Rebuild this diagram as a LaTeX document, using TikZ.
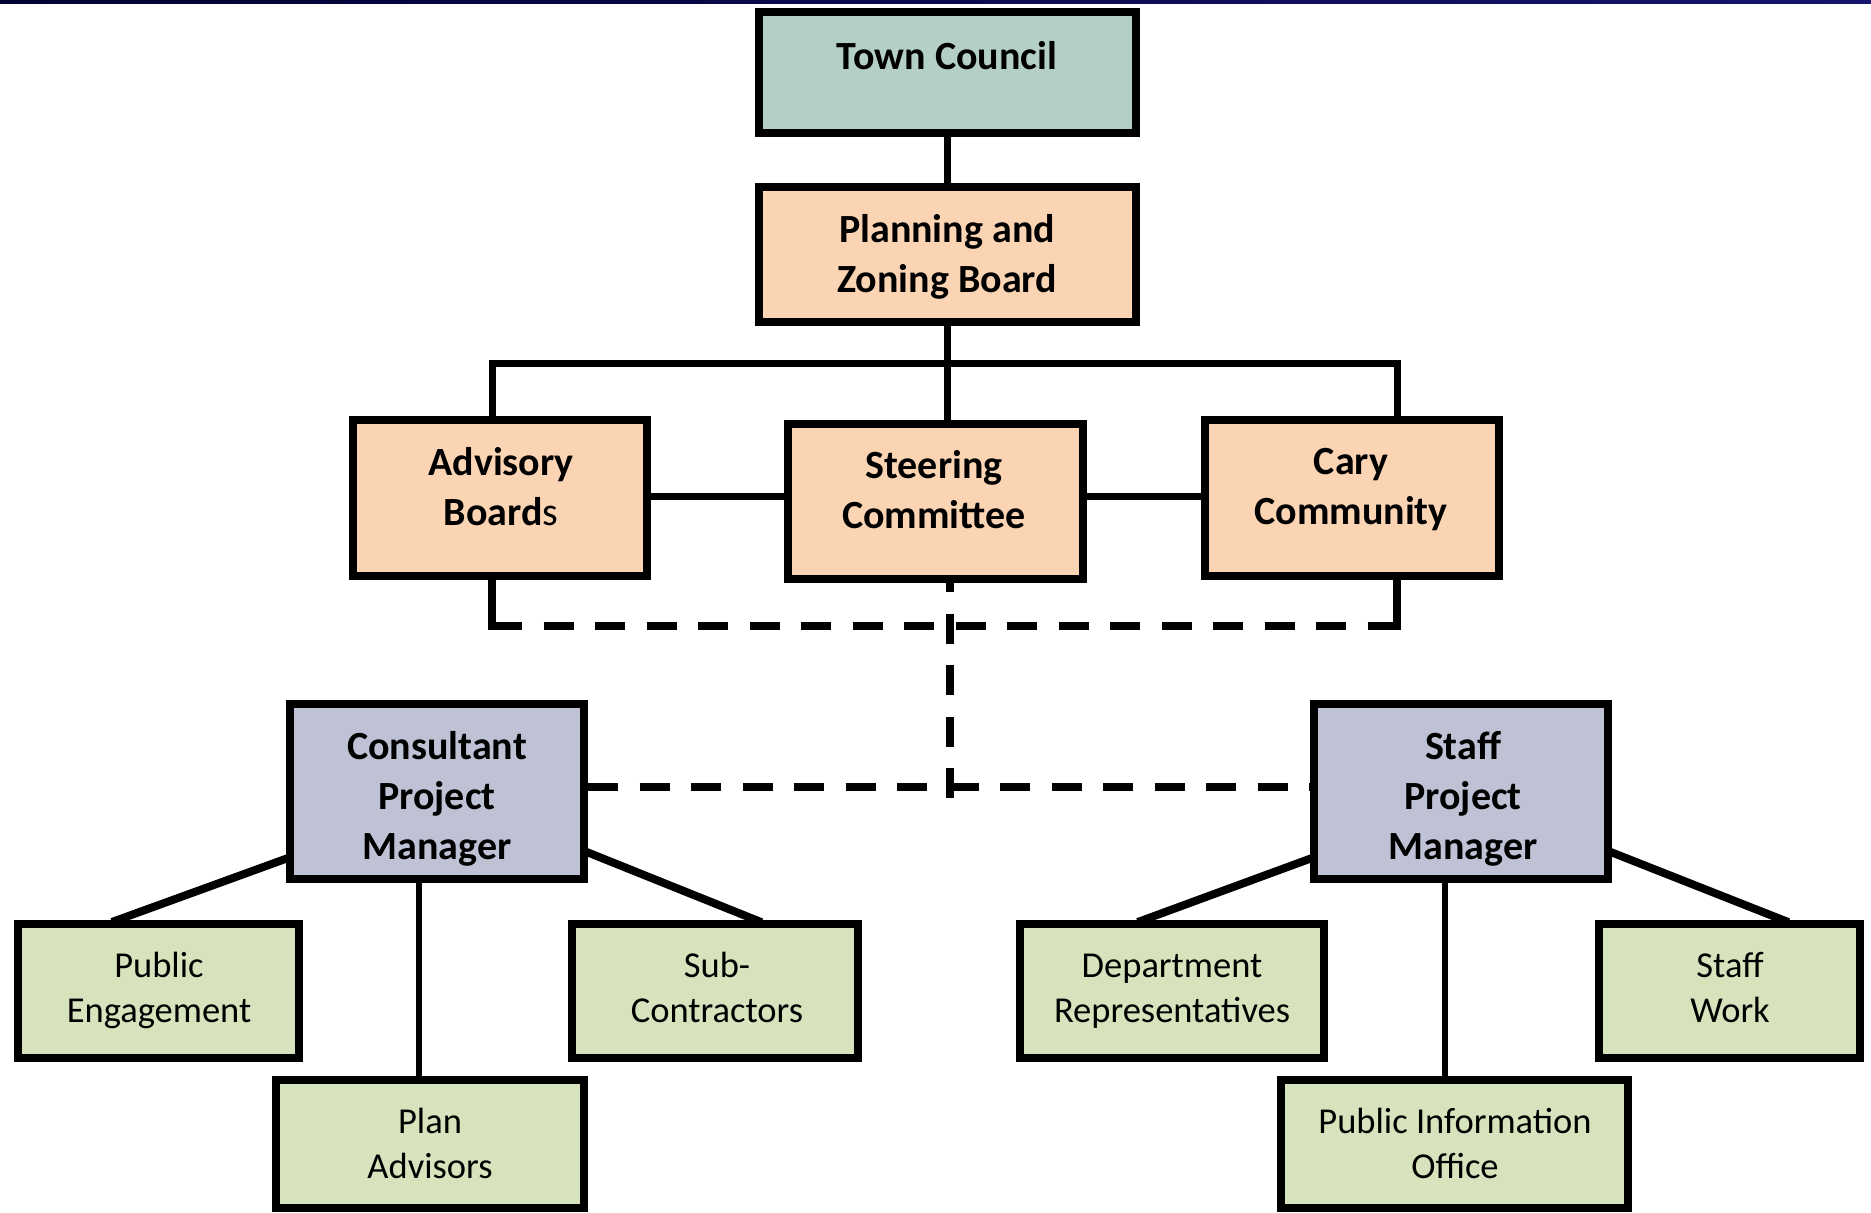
\documentclass[tikz,border=0pt]{standalone}
\usepackage{fontspec}
\setmainfont{Carlito}
\usetikzlibrary{backgrounds}
\definecolor{tcfill}{HTML}{B4CFC3}
\definecolor{orfill}{HTML}{FBD4B4}
\definecolor{pmfill}{HTML}{BEC2D4}
\definecolor{grfill}{HTML}{D7E3BC}
\definecolor{navyA}{HTML}{000030}
\definecolor{navyB}{HTML}{14146E}
\newcommand\tst{\rule[-.15em]{0pt}{.95em}}
\begin{document}
\begin{tikzpicture}[x=0.5pt,y=-0.5pt,
  box/.style={draw=black, line width=4pt, inner sep=0pt, line join=miter},
  tb/.style={align=center, inner sep=0pt, text=black, font=\fontsize{20pt}{25pt}\selectfont\bfseries},
  tr/.style={align=center, inner sep=0pt, text=black, font=\fontsize{18.25pt}{22.5pt}\selectfont},
  conn/.style={line width=3.5pt, line join=miter},
  stub/.style={line width=4pt, line cap=rect},
  diag/.style={line width=4pt, shorten <=-3pt, shorten >=-3pt},
  thinl/.style={line width=3pt},
  dsh/.style={line width=4pt, dash pattern=on 15pt off 10.75pt}
]
\useasboundingbox (0,0) rectangle (1871,1212);

% boxes
\node[box, fill=tcfill, minimum width=188.5pt, minimum height=60.5pt] (tc) at (947.5,72.5) {};
\node[box, fill=orfill, minimum width=188.5pt, minimum height=67.5pt] (pzb) at (947.5,254.5) {};
\node[box, fill=orfill, minimum width=147pt, minimum height=78pt] (adv) at (500,498) {};
\node[box, fill=orfill, minimum width=147.5pt, minimum height=77.5pt] (stc) at (935.5,501.5) {};
\node[box, fill=orfill, minimum width=147pt, minimum height=78pt] (cary) at (1352,498) {};
\node[box, fill=pmfill, minimum width=147pt, minimum height=87.5pt] (cpm) at (437,791.5) {};
\node[box, fill=pmfill, minimum width=147pt, minimum height=87.5pt] (spm) at (1461,791.5) {};
\node[box, fill=grfill, minimum width=140.5pt, minimum height=67pt] (pe) at (158.5,991) {};
\node[box, fill=grfill, minimum width=143pt, minimum height=67pt] (sub) at (715,991) {};
\node[box, fill=grfill, minimum width=154pt, minimum height=64pt] (pa) at (430,1144) {};
\node[box, fill=grfill, minimum width=152pt, minimum height=67pt] (dept) at (1172,991) {};
\node[box, fill=grfill, minimum width=173.5pt, minimum height=64pt] (pio) at (1454.5,1144) {};
\node[box, fill=grfill, minimum width=130.5pt, minimum height=67pt] (sw) at (1729.5,991) {};

% texts
\node[tb] (tcT) at (947,56) {\tst Town Council};
\node[tb] (pzbT) at (947,255) {\tst Planning and\\\tst Zoning Board};
\node[tb] (advT) at (501,487) {\tst Advisory\\\tst Board{\mdseries s}};
\node[tb] (stcT) at (934,490) {\tst Steering\\\tst Committee};
\node[tb] (caryT) at (1351,487) {\tst Cary\\\tst Community};
\node[tb] (cpmT) at (437,797) {\tst Consultant\\\tst Project\\\tst Manager};
\node[tb] (spmT) at (1463,797) {\tst Staff\\\tst Project\\\tst Manager};
\node[tr] (peT) at (159,988.5) {\tst Public\\\tst Engagement};
\node[tr] (subT) at (717,988.5) {\tst Sub-\\\tst Contractors};
\node[tr] (paT) at (430,1144) {\tst Plan\\\tst Advisors};
\node[tr] (deptT) at (1172,988.5) {\tst Department\\\tst Representatives};
\node[tr] (pioT) at (1455,1144) {\tst Public Information\\\tst Office};
\node[tr] (swT) at (1730,988.5) {\tst Staff\\\tst Work};

% junction coordinates
\coordinate (bl) at (492,363);
\coordinate (br) at (1397,363);
\coordinate (hl) at (0,496);
\coordinate (dl) at (492,626);
\coordinate (dr) at (1397,626);
\coordinate (jv) at (950,798);
\coordinate (jl) at (0,787);

\begin{scope}[on background layer]
  \fill[white] (0,0) rectangle (1871,1212);
  \shade[left color=navyA, right color=navyB] (0,0) rectangle (1871,3);
  % solid hierarchy
  \draw[conn] (tc.south) -- (pzb.north);
  \draw[conn] (pzb.south) -- (pzb.south |- stc.north);
  \draw[conn] (adv.north -| bl) -- (bl) -- (br) -- (cary.north -| br);
  \draw[conn] (adv.east |- hl) -- (stc.west |- hl);
  \draw[conn] (stc.east |- hl) -- (cary.west |- hl);
  % dashed links
  \draw[stub] (adv.south -| dl) -- (dl);
  \draw[stub] (cary.south -| dr) -- (dr);
  \draw[dsh] (dl) -- (dr);
  \draw[dsh, dash phase=10.5pt] (stc.south -| jv) -- (jv);
  \draw[dsh] (cpm.east |- jl) -- (spm.west |- jl);
  % consultant branch
  \draw[diag] (cpm.204.1) -- (pe.120.3);
  \draw[diag] (cpm.-22.5) -- (sub.60);
  \draw[thinl] (cpm.-101.1) -- (cpm.-101.1 |- pa.north);
  % staff branch
  \draw[diag] (spm.204.1) -- (dept.112.2);
  \draw[diag] (spm.-22.5) -- (sw.53.5);
  \draw[thinl] (spm.-100.5) -- (spm.-100.5 |- pio.north);
\end{scope}
\end{tikzpicture}
\end{document}
